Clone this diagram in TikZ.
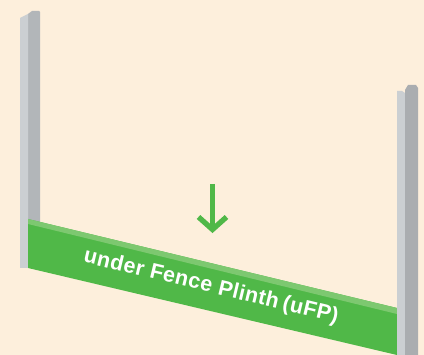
\documentclass[tikz,border=0pt]{standalone}
\usepackage{fontspec}
\setmainfont{Liberation Sans}
\newfontfamily\labelfont[LetterSpace=2]{Liberation Sans}
\definecolor{bgcol}{HTML}{FDEFDC}
\definecolor{postlight}{HTML}{CBCFD2}
\definecolor{postdark}{HTML}{B2B6B9}
\definecolor{postdarkR}{HTML}{AAADB0}
\definecolor{plinth}{HTML}{50B848}
\definecolor{plinthlight}{HTML}{7DC870}
\tikzset{
  face/.style={draw=none},
  arrowline/.style={draw=plinth, line width=5.3pt, line join=miter, line cap=butt},
  plinthlabel/.style={text=white, font=\labelfont\bfseries\fontsize{21.5}{25}\selectfont, inner sep=0pt, rotate=-13.5}
}
\begin{document}
\begin{tikzpicture}[x=1pt,y=-1pt]
\fill[bgcol] (0,0) rectangle (424,355);
\useasboundingbox (0,0) rectangle (424,355);
% left post
\fill[postdark] (28,14) -- (32,11) -- (39,11) -- (40,12) -- (40,268) -- (28,268) -- cycle;
\fill[postlight] (20,268) -- (20,18) -- (28,14) -- (28,268) -- cycle;
% plinth
\fill[plinth] (28,219) -- (397,308) -- (397,355) -- (28,268) -- cycle;
\fill[plinthlight] (28,219) -- (397,308) -- (397,314) -- (28,224) -- cycle;
\node[plinthlabel] (label) at (211,287) {under Fence Plinth\hspace{-2pt} (uFP)};
% right post
\fill[postlight] (397,355) -- (397,91) -- (402,91) -- (405,93) -- (405,355) -- cycle;
\fill[postdarkR] (405,355) -- (405,90) -- (408,85) -- (416,85) -- (418,88) -- (418,355) -- cycle;
% arrow
\coordinate (atop) at (212.5,184);
\coordinate (atip) at (212.5,229.5);
\coordinate (aleft) at (198.5,217);
\coordinate (aright) at (226.5,217);
\draw[arrowline] (atop) -- (212.5,228);
\draw[arrowline] (aleft) -- (atip) -- (aright);
\end{tikzpicture}
\end{document}
